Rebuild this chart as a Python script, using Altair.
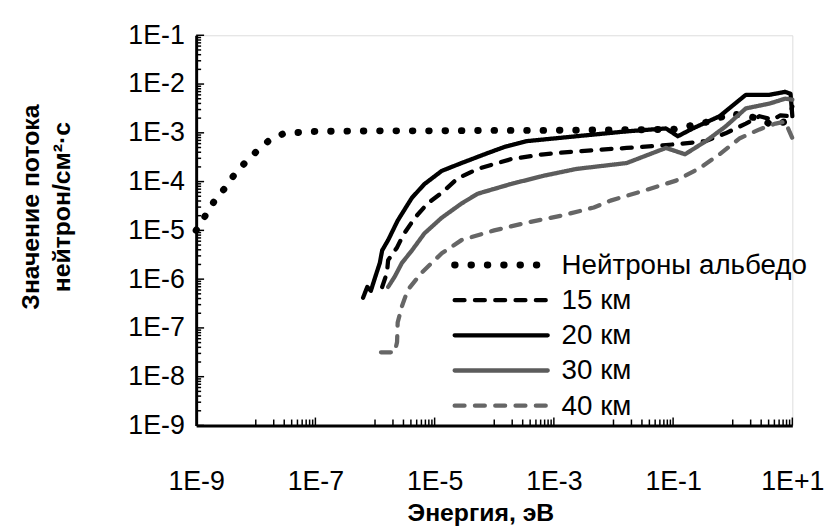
import altair as alt
import pandas as pd

series_names = ["Нейтроны альбедо", "15 км", "20 км", "30 км", "40 км"]
series_colors = ["#000000", "#000000", "#000000", "#5c5c5c", "#666666"]
series_dashes = [[0.5, 16], [10, 10.5], [1, 0], [1, 0], [10, 10.5]]

# log10 of energy (eV) and log10 of flux
albedo_logE = [-9.0, -8.67, -8.5, -8.35, -8.17, -7.97, -7.77, -7.52, -7.0, -6.0, -5.0, -4.0, -3.0, -2.0, -1.0, -0.32, -0.05, 0.43, 0.68, 0.88, 1.0]
albedo_logF = [-5.0, -4.35, -4.11, -3.84, -3.60, -3.36, -3.15, -3.01, -2.97, -2.96, -2.96, -2.95, -2.95, -2.94, -2.93, -2.75, -2.60, -2.70, -2.85, -2.77, -2.80]

km15_logE = [-5.88, -5.80, -5.78, -5.63, -5.53, -5.33, -5.12, -4.88, -4.62, -4.28, -3.72, -3.17, -2.62, -1.78, -1.12, -0.92, -0.45, -0.12, 0.22, 0.45, 0.67, 0.80, 0.95, 1.0]
km15_logF = [-6.16, -5.87, -5.61, -5.35, -5.10, -4.74, -4.45, -4.23, -3.94, -3.74, -3.54, -3.44, -3.38, -3.31, -3.25, -3.23, -3.17, -3.01, -2.81, -2.66, -2.73, -2.64, -2.66, -2.46]

km20_logE = [-6.20, -6.13, -6.07, -6.00, -5.92, -5.88, -5.78, -5.62, -5.38, -5.17, -4.88, -4.55, -4.12, -3.83, -3.45, -2.62, -1.78, -1.12, -0.92, -0.67, -0.22, 0.22, 0.62, 0.88, 0.97, 1.0]
km20_logF = [-6.38, -6.16, -6.24, -5.97, -5.67, -5.41, -5.20, -4.80, -4.33, -4.05, -3.78, -3.62, -3.42, -3.29, -3.17, -3.07, -2.97, -2.91, -3.07, -2.91, -2.66, -2.22, -2.22, -2.16, -2.20, -2.66]

km30_logE = [-5.78, -5.67, -5.55, -5.38, -5.17, -4.88, -4.55, -4.28, -3.72, -3.17, -2.62, -1.78, -1.12, -0.80, -0.45, -0.12, 0.22, 0.62, 0.88, 1.0]
km30_logF = [-6.16, -5.95, -5.67, -5.41, -5.06, -4.74, -4.45, -4.25, -4.05, -3.88, -3.74, -3.62, -3.31, -3.44, -3.17, -2.87, -2.50, -2.40, -2.30, -2.32]

km40_logE = [-5.90, -5.67, -5.63, -5.62, -5.55, -5.45, -5.22, -4.88, -4.55, -4.00, -3.45, -2.88, -2.33, -2.05, -1.50, -0.95, -0.55, -0.22, 0.12, 0.45, 0.72, 0.88, 1.0]
km40_logF = [-7.50, -7.50, -7.29, -6.89, -6.56, -6.22, -5.87, -5.47, -5.20, -5.00, -4.84, -4.70, -4.53, -4.39, -4.19, -3.98, -3.72, -3.44, -3.11, -2.93, -2.81, -2.77, -3.11]

x_label_values = [1e-9, 1e-7, 1e-5, 1e-3, 1e-1, 1e1]
y_label_values = [1e-9, 1e-8, 1e-7, 1e-6, 1e-5, 1e-4, 1e-3, 1e-2, 1e-1]

rows = []
for name, le, lf in zip(series_names,
                        [albedo_logE, km15_logE, km20_logE, km30_logE, km40_logE],
                        [albedo_logF, km15_logF, km20_logF, km30_logF, km40_logF]):
    for i, (a, b) in enumerate(zip(le, lf)):
        rows.append({"series": name, "order": i, "E": 10 ** a, "F": 10 ** b})
df = pd.DataFrame(rows)
legend_df = pd.DataFrame({"series": series_names})

# tick positions
y_major = [10 ** d for d in range(-9, 0)]
y_minor = [k * 10 ** d for d in range(-9, -1) for k in range(2, 10)]
x_major = [10 ** (d + 1) for d in range(-8, 1, 2)]
x_minor = [k * 10 ** d for d in range(-8, 1, 2) for k in range(1, 10)]

W, H = 602, 394
FONT = "Liberation Sans"
DOTTED = "datum.series == 'Нейтроны альбедо'"
NOT_DOTTED = "datum.series != 'Нейтроны альбедо'"

xscale = alt.Scale(type="log", domain=[1e-9, 10])
yscale = alt.Scale(type="log", domain=[1e-9, 0.1])
color_enc = alt.Color("series:N", sort=series_names,
                      scale=alt.Scale(domain=series_names, range=series_colors), legend=None)
dash_enc = alt.StrokeDash("series:N", sort=series_names,
                          scale=alt.Scale(domain=series_names, range=series_dashes), legend=None)

label_expr = "'1E' + (round(log(datum.value)/LN10) >= 0 ? '+' : '') + round(log(datum.value)/LN10)"

x_enc = alt.X("E:Q", scale=xscale,
              axis=alt.Axis(values=x_label_values, labelExpr=label_expr, ticks=False, grid=False,
                            labelPadding=44, labelFontSize=27, labelFont=FONT, labelColor="#000",
                            domainColor="#000", domainWidth=3,
                            title="Энергия, эВ", titleFontSize=25, titleFont=FONT, titleFontWeight="bold",
                            titleColor="#000", titlePadding=6, titleX=287, labelFlush=False))
y_enc = alt.Y("F:Q", scale=yscale,
              axis=alt.Axis(values=y_label_values, labelExpr=label_expr, ticks=False, grid=False,
                            labelPadding=12, labelFontSize=27, labelFont=FONT, labelColor="#000",
                            domainColor="#000", domainWidth=3,
                            title=["Значение потока", "нейтрон/см²·с"], titleFontSize=25, titleFont=FONT,
                            titleFontWeight="bold", titleColor="#000", titleLineHeight=31,
                            titleX=-167, titleY=173, titleAngle=270, titleAlign="center",
                            titleBaseline="middle", labelFlush=False))

base = alt.Chart(df).encode(x=x_enc, y=y_enc, color=color_enc, strokeDash=dash_enc, order="order:Q")
lines_solid = base.transform_filter(NOT_DOTTED).mark_line(strokeWidth=4.3, strokeCap="round", strokeJoin="round")
lines_dot = base.transform_filter(DOTTED).mark_line(strokeWidth=7, strokeCap="round", strokeJoin="round")

def vrule(vals, length):
    return alt.Chart(pd.DataFrame({"v": vals})).mark_rule(color="#000", strokeWidth=1.5).encode(
        y=alt.Y("v:Q", scale=yscale), x=alt.value(0), x2=alt.value(length))

def hrule(vals, length):
    return alt.Chart(pd.DataFrame({"v": vals})).mark_rule(color="#000", strokeWidth=1.5).encode(
        x=alt.X("v:Q", scale=xscale), y=alt.value(H), y2=alt.value(H - length))

leg_y = alt.Y("series:N", sort=series_names,
              scale=alt.Scale(type="point", domain=series_names, range=[232, 374], padding=0), axis=None)
leg_base = alt.Chart(legend_df).encode(
    y=leg_y, x=alt.value(261), x2=alt.value(355), color=color_enc, strokeDash=dash_enc)
leg_solid = leg_base.transform_filter(NOT_DOTTED).mark_rule(strokeCap="round", strokeWidth=4.3)
leg_dot = leg_base.transform_filter(DOTTED).mark_rule(strokeCap="round", strokeWidth=7)
leg_text = alt.Chart(legend_df).mark_text(align="left", baseline="middle", fontSize=28,
                                          font=FONT, color="#000", dy=1).encode(
    y=leg_y, x=alt.value(369), text="series:N",
)

main = alt.layer(vrule(y_major, 8), vrule(y_minor, 5), hrule(x_major, 8), hrule(x_minor, 6),
                 lines_dot, lines_solid)
legend = alt.layer(leg_dot, leg_solid, leg_text)

chart = alt.layer(main, legend).resolve_scale(y="independent").properties(
    width=W, height=H,
    autosize=alt.AutoSizeParams(type="none"),
    padding={"left": 190, "top": 25, "right": 35, "bottom": 101},
).configure_view(stroke=None).configure(background="white")

chart.save("out.html", embed_options={"renderer": "svg", "actions": False})
